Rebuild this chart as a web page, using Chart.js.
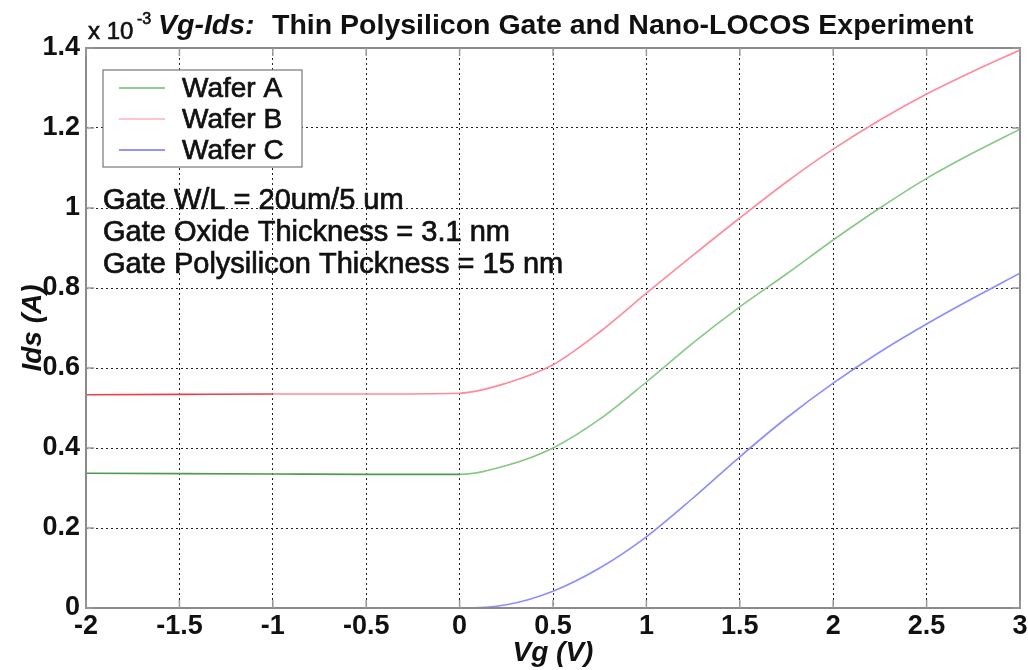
<!DOCTYPE html>
<html>
<head>
<meta charset="utf-8">
<script src="https://cdn.jsdelivr.net/npm/chart.js@4.4.0/dist/chart.umd.min.js"></script>
<style>
  html, body { margin: 0; padding: 0; background: #fff; }
  #wrap { width: 1028px; height: 670px; }
</style>
</head>
<body>
<div id="wrap"><canvas id="ivChart" width="1028" height="670"></canvas></div>
<script>
// Vg sweep (V) and drain current for each wafer (x 10^-3 A)
const vg = [-2, -1.5, -1, -0.5, 0, 0.25, 0.5, 0.75, 1, 1.25, 1.5, 1.75, 2, 2.25, 2.5, 2.75, 3];
const waferA = [0.337, 0.336, 0.335, 0.334, 0.334, 0.356, 0.400, 0.472, 0.565, 0.663, 0.753, 0.835, 0.920, 1.000, 1.074, 1.138, 1.197];
const waferB = [0.533, 0.534, 0.535, 0.535, 0.537, 0.562, 0.608, 0.690, 0.787, 0.882, 0.975, 1.065, 1.147, 1.220, 1.285, 1.342, 1.395];
const waferC = [0, 0, 0, 0, 0, 0.008, 0.042, 0.100, 0.178, 0.275, 0.378, 0.475, 0.562, 0.640, 0.710, 0.775, 0.837];

const seriesNames = ["Wafer A", "Wafer B", "Wafer C"];
const notes = ["Gate W/L = 20um/5 um", "Gate Oxide Thickness = 3.1 nm", "Gate Polysilicon Thickness = 15 nm"];

const FONT = "'Liberation Sans', Arial, sans-serif";

function pts(ys) {
  return vg.map((x, i) => ({ x, y: ys[i] }));
}

// fill + thin stroke so regular text looks as heavy as the scanned figure
function heavyText(ctx, s, x, y) {
  ctx.fillText(s, x, y);
  ctx.strokeText(s, x, y);
}

const decor = {
  id: "decor",
  afterDatasetsDraw(chart) {
    const { ctx, chartArea: a } = chart;
    ctx.save();

    // frame
    ctx.strokeStyle = "#8a8a8a";
    ctx.lineWidth = 2;
    ctx.strokeRect(a.left, a.top, a.right - a.left, a.bottom - a.top);

    // small inward tick marks
    ctx.strokeStyle = "#999";
    ctx.lineWidth = 1.5;
    const xs = chart.scales.x, ys = chart.scales.y;
    xs.ticks.forEach((t, i) => {
      const px = xs.getPixelForTick(i);
      ctx.beginPath();
      ctx.moveTo(px, a.bottom); ctx.lineTo(px, a.bottom - 8);
      ctx.moveTo(px, a.top); ctx.lineTo(px, a.top + 8);
      ctx.stroke();
    });
    ys.ticks.forEach((t, i) => {
      const py = ys.getPixelForTick(i);
      ctx.beginPath();
      ctx.moveTo(a.left, py); ctx.lineTo(a.left + 8, py);
      ctx.moveTo(a.right, py); ctx.lineTo(a.right - 8, py);
      ctx.stroke();
    });

    // legend box
    const lx = a.left + 17, ly = a.top + 22, lw = 199, lh = 97;
    ctx.fillStyle = "#fff";
    ctx.fillRect(lx, ly, lw, lh);
    ctx.strokeStyle = "#777";
    ctx.lineWidth = 1.2;
    ctx.strokeRect(lx, ly, lw, lh);
    ctx.font = "28px " + FONT;
    ctx.textBaseline = "middle";
    ctx.textAlign = "left";
    chart.data.datasets.forEach((ds, i) => {
      const y = ly + 18 + i * 31;
      ctx.strokeStyle = ds.borderColor;
      ctx.lineWidth = 1.5;
      ctx.beginPath();
      ctx.moveTo(lx + 16, y); ctx.lineTo(lx + 62, y);
      ctx.stroke();
      ctx.fillStyle = "#111";
      ctx.strokeStyle = "#111";
      ctx.lineWidth = 0.7;
      heavyText(ctx, ds.label, lx + 79, y + 1);
    });

    // device notes
    ctx.font = "29px " + FONT;
    ctx.fillStyle = "#111";
    ctx.strokeStyle = "#111";
    ctx.lineWidth = 0.7;
    notes.forEach((s, i) => {
      heavyText(ctx, s, a.left + 17, a.top + 153 + i * 32);
    });

    ctx.restore();
  },
  afterDraw(chart) {
    const { ctx } = chart;
    ctx.save();
    ctx.fillStyle = "#111";
    ctx.strokeStyle = "#111";
    ctx.lineWidth = 0.6;
    ctx.textBaseline = "alphabetic";
    ctx.textAlign = "left";
    ctx.font = "24px " + FONT;
    heavyText(ctx, "x 10", 88, 39);
    ctx.font = "16px " + FONT;
    heavyText(ctx, "-3", 137, 24);
    ctx.font = "italic bold 28.5px " + FONT;
    ctx.fillText("Vg-Ids:", 158, 34);
    ctx.font = "bold 28.5px " + FONT;
    ctx.fillText("Thin Polysilicon Gate and Nano-LOCOS Experiment", 272, 34);
    ctx.restore();
  }
};

const tickLabel = v => String(+Number(v).toFixed(2));

function noPad(s) {
  s.paddingLeft = 0;
  s.paddingRight = 0;
  s.paddingTop = 0;
  s.paddingBottom = 0;
}

new Chart(document.getElementById("ivChart").getContext("2d"), {
  type: "line",
  data: {
    datasets: [
      {
        label: seriesNames[0],
        data: pts(waferA),
        borderColor: "#6cbf6c",
        segment: { borderColor: c => c.p0.parsed.x < 0 ? "#4f9a4f" : "#86c886" }
      },
      {
        label: seriesNames[1],
        data: pts(waferB),
        borderColor: "#ffb0bc",
        segment: { borderColor: c => c.p0.parsed.x < -1.2 ? "#e8404a" : "#ff8a9c" }
      },
      {
        label: seriesNames[2],
        data: pts(waferC),
        borderColor: "#7070ff",
        segment: { borderColor: () => "#8c8cff" }
      }
    ].map(d => ({ ...d, borderWidth: 1.6, pointRadius: 0, fill: false, cubicInterpolationMode: "monotone" }))
  },
  options: {
    responsive: false,
    animation: false,
    layout: { padding: { top: 48, right: 8, left: 0, bottom: 0 } },
    plugins: {
      legend: { display: false },
      tooltip: { enabled: false },
      title: { display: false }
    },
    scales: {
      x: {
        type: "linear",
        min: -2,
        max: 3,
        afterFit: s => { s.height = 62; noPad(s); },
        ticks: {
          stepSize: 0.5,
          padding: 2,
          color: "#111",
          callback: tickLabel,
          font: { family: FONT, size: 27, weight: "bold" }
        },
        grid: { color: "#222", borderDash: [2, 3], drawTicks: false, lineWidth: 1 },
        border: { display: false, dash: [2, 3] },
        title: {
          display: true,
          text: "Vg (V)",
          color: "#111",
          padding: { top: 0, bottom: 0 },
          font: { family: FONT, size: 28, weight: "bold", style: "italic" }
        }
      },
      y: {
        min: 0,
        max: 1.4,
        afterFit: s => { s.width = 86; noPad(s); },
        ticks: {
          stepSize: 0.2,
          padding: 6,
          color: "#111",
          callback: tickLabel,
          font: { family: FONT, size: 27, weight: "bold" }
        },
        grid: { color: "#222", borderDash: [2, 3], drawTicks: false, lineWidth: 1 },
        border: { display: false, dash: [2, 3] },
        title: {
          display: true,
          text: "Ids (A)",
          color: "#111",
          padding: { top: 16, bottom: 16 },
          font: { family: FONT, size: 28, weight: "bold", style: "italic" }
        }
      }
    }
  },
  plugins: [decor]
});
</script>
</body>
</html>
